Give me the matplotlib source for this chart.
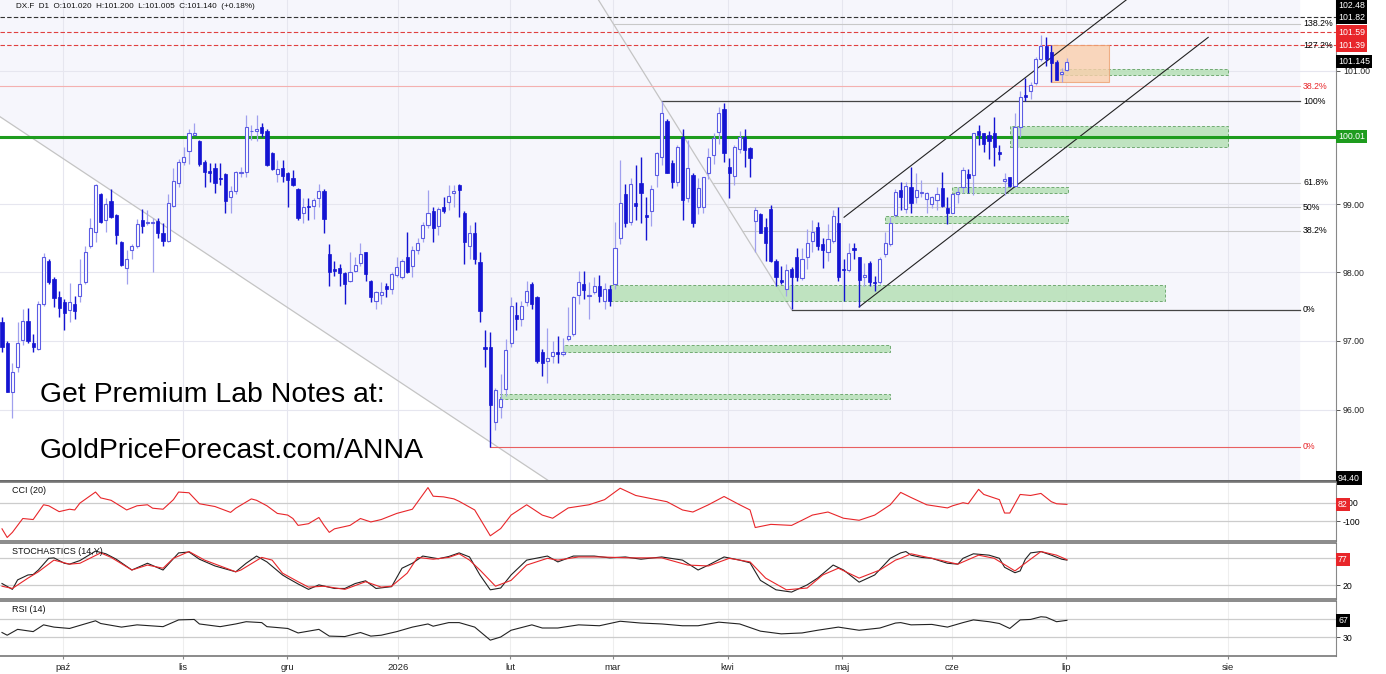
import numpy as np
import matplotlib
matplotlib.use("Agg")
import matplotlib.pyplot as plt
import matplotlib.transforms as mtransforms
from matplotlib.patches import Rectangle, Polygon
from matplotlib.ticker import FixedLocator, NullLocator

plt.rcParams['font.family'] = ['Liberation Sans', 'DejaVu Sans']

# --- dane dzienne DX.F ---
opens = [97.27, 96.97, 96.26, 96.62, 97.01, 97.29, 96.97, 96.88, 97.53, 98.17,
         97.90, 97.63, 97.56, 97.44, 97.54, 97.65, 97.85, 98.38, 98.59, 99.15,
         98.77, 99.05, 98.84, 98.45, 98.06, 98.33, 98.38, 98.77, 98.72, 98.73,
         98.75, 98.57, 98.46, 98.97, 99.32, 99.63, 99.80, 100.04, 99.95, 99.63,
         99.50, 99.54, 99.39, 99.45, 99.11, 99.20, 99.47, 99.48, 100.09, 100.10,
         100.16, 100.10, 99.77, 99.45, 99.54, 99.47, 99.39, 99.23, 98.88, 98.97,
         98.97, 99.09, 99.20, 98.26, 98.04, 98.06, 97.99, 97.87, 98.01, 98.13,
         98.29, 97.87, 97.57, 97.66, 97.79, 97.75, 97.96, 97.93, 98.22, 98.09,
         98.33, 98.51, 98.70, 98.90, 98.68, 98.96, 99.03, 99.17, 99.29, 98.88,
         98.38, 98.58, 98.15, 96.90, 96.90, 95.83, 96.04, 96.30, 96.97, 97.37,
         97.32, 97.56, 97.82, 97.63, 96.83, 96.71, 96.78, 96.83, 96.80, 97.03,
         97.09, 97.66, 97.82, 97.65, 97.71, 97.79, 97.57, 97.76, 97.82, 98.51,
         99.15, 98.74, 99.02, 99.32, 98.84, 98.90, 99.44, 99.71, 100.25, 99.62,
         99.33, 100.01, 99.09, 99.44, 98.96, 98.96, 99.47, 99.74, 100.08, 100.43,
         99.56, 99.42, 99.83, 100.00, 99.84, 98.75, 98.86, 98.67, 98.93, 98.16,
         97.88, 97.76, 98.04, 98.23, 97.91, 98.22, 98.46, 98.67, 98.42, 98.29,
         98.46, 98.72, 98.04, 98.03, 98.36, 98.22, 97.93, 98.13, 97.85, 97.85,
         98.26, 98.41, 98.84, 99.21, 98.93, 99.26, 99.11, 99.17, 99.08, 99.00,
         99.06, 99.24, 98.94, 98.87, 99.15, 99.26, 99.45, 99.44, 100.10, 100.06,
         100.03, 100.07, 99.78, 99.35, 99.41, 99.27, 100.16, 100.63, 100.70, 100.82,
         101.18, 101.38, 101.28, 101.14, 100.95, 101.02]
highs = [97.34, 96.99, 96.68, 97.27, 97.46, 97.47, 97.09, 97.57, 98.28, 98.19,
         97.93, 97.72, 97.60, 97.84, 97.65, 98.19, 98.38, 98.80, 99.30, 99.17,
         99.10, 99.23, 98.86, 98.46, 98.33, 98.41, 98.78, 98.93, 98.91, 98.80,
         98.80, 98.72, 99.15, 99.54, 99.68, 99.86, 100.12, 100.22, 99.96, 99.66,
         99.62, 99.62, 99.62, 99.47, 99.27, 99.50, 99.56, 100.34, 100.19, 100.34,
         100.22, 100.13, 99.78, 99.66, 99.66, 99.48, 99.51, 99.24, 99.09, 99.09,
         99.09, 99.30, 99.23, 98.41, 98.16, 98.12, 98.00, 98.29, 98.23, 98.43,
         98.29, 97.88, 97.72, 97.85, 97.84, 98.00, 98.23, 98.19, 98.59, 98.38,
         98.51, 98.74, 99.21, 98.96, 98.96, 99.11, 99.29, 99.29, 99.30, 98.90,
         98.70, 98.74, 98.29, 97.16, 97.12, 96.32, 96.51, 97.03, 97.63, 97.56,
         97.57, 97.87, 97.85, 97.65, 96.88, 97.19, 96.99, 97.07, 97.04, 97.49,
         97.65, 98.01, 98.01, 97.85, 97.93, 97.96, 97.84, 97.81, 98.74, 99.66,
         99.30, 99.39, 99.59, 99.71, 99.11, 99.29, 99.78, 100.54, 100.28, 99.66,
         99.89, 100.13, 99.96, 99.47, 99.39, 99.41, 99.84, 100.07, 100.46, 100.51,
         99.69, 99.89, 100.09, 100.13, 99.86, 98.96, 98.88, 98.80, 98.99, 98.19,
         98.09, 98.12, 98.07, 98.35, 98.36, 98.64, 98.77, 98.74, 98.51, 98.71,
         98.91, 98.96, 98.19, 98.43, 98.43, 98.23, 98.14, 98.16, 97.94, 98.23,
         98.59, 98.81, 99.23, 99.33, 99.33, 99.56, 99.47, 99.36, 99.18, 99.12,
         99.26, 99.48, 99.11, 99.17, 99.26, 99.56, 99.53, 100.07, 100.19, 100.06,
         100.09, 100.31, 99.89, 99.47, 99.41, 100.37, 100.69, 100.89, 100.84, 101.21,
         101.54, 101.52, 101.39, 101.17, 101.05, 101.20]
lows = [96.84, 96.25, 95.88, 96.54, 96.94, 96.97, 96.84, 96.87, 97.50, 97.82,
        97.49, 97.34, 97.16, 97.27, 97.31, 97.56, 97.82, 98.36, 98.45, 98.72,
        98.59, 98.80, 98.41, 98.09, 97.82, 98.19, 98.36, 98.58, 98.70, 98.00,
        98.51, 98.38, 98.45, 98.96, 99.26, 99.59, 99.60, 100.03, 99.57, 99.26,
        99.33, 99.17, 99.29, 98.87, 98.87, 99.15, 99.41, 99.41, 99.96, 99.95,
        100.01, 99.57, 99.51, 99.33, 99.33, 98.96, 99.27, 98.77, 98.72, 98.77,
        98.78, 98.96, 98.58, 97.79, 97.94, 97.79, 97.53, 97.85, 98.00, 98.09,
        97.87, 97.56, 97.46, 97.53, 97.63, 97.68, 97.93, 97.90, 97.99, 97.93,
        98.26, 98.45, 98.65, 98.45, 98.55, 98.87, 98.91, 98.96, 98.81, 98.12,
        98.19, 98.12, 97.27, 96.62, 95.46, 95.71, 95.88, 96.20, 96.91, 97.16,
        97.21, 97.50, 97.46, 96.68, 96.49, 96.39, 96.67, 96.68, 96.77, 96.99,
        97.06, 97.53, 97.60, 97.31, 97.68, 97.56, 97.46, 97.50, 97.75, 98.42,
        98.67, 98.70, 98.77, 98.72, 98.48, 98.68, 99.26, 99.59, 99.47, 99.24,
        99.27, 98.77, 99.03, 98.67, 98.86, 98.88, 99.38, 99.60, 99.90, 99.63,
        99.09, 99.29, 99.77, 99.56, 99.41, 98.30, 98.58, 98.16, 98.15, 97.79,
        97.82, 97.65, 97.46, 97.87, 97.88, 98.04, 98.30, 98.33, 98.06, 98.16,
        98.43, 97.87, 97.57, 98.00, 98.19, 97.49, 97.79, 97.79, 97.72, 97.82,
        98.23, 98.38, 98.81, 98.91, 98.87, 98.88, 99.02, 99.11, 98.87, 98.94,
        98.91, 98.96, 98.71, 98.87, 99.02, 99.17, 99.17, 99.14, 99.89, 99.78,
        99.68, 99.57, 99.66, 99.14, 99.26, 99.26, 100.01, 100.54, 100.57, 100.79,
        101.15, 101.08, 100.84, 100.87, 100.83, 101.005]
closes = [96.91, 96.26, 96.54, 96.97, 97.28, 96.99, 96.90, 97.53, 98.23, 97.85,
          97.62, 97.47, 97.40, 97.56, 97.43, 97.82, 98.29, 98.65, 99.29, 98.74,
          99.01, 98.81, 98.55, 98.10, 98.20, 98.38, 98.71, 98.68, 98.74, 98.74,
          98.58, 98.46, 99.02, 99.35, 99.63, 99.71, 100.07, 100.06, 99.60, 99.48,
          99.47, 99.32, 99.38, 99.05, 99.20, 99.48, 99.48, 100.16, 100.10, 100.12,
          100.07, 99.59, 99.53, 99.53, 99.42, 99.36, 99.29, 98.80, 98.96, 98.96,
          99.06, 99.20, 98.78, 98.00, 98.01, 97.99, 97.82, 98.00, 98.10, 98.26,
          97.97, 97.63, 97.71, 97.71, 97.76, 97.97, 98.07, 98.16, 98.00, 98.32,
          98.43, 98.70, 98.88, 98.65, 98.93, 98.90, 99.12, 99.20, 99.21, 98.45,
          98.57, 98.20, 97.43, 96.88, 96.07, 96.29, 96.16, 96.87, 97.50, 97.32,
          97.50, 97.72, 97.53, 96.70, 96.68, 96.74, 96.84, 96.81, 96.83, 97.06,
          97.63, 97.85, 97.74, 97.66, 97.79, 97.65, 97.76, 97.57, 98.35, 99.02,
          98.72, 99.30, 98.97, 99.17, 98.81, 99.23, 99.77, 100.37, 99.47, 99.33,
          99.86, 99.06, 99.54, 98.72, 99.24, 99.41, 99.71, 99.99, 100.37, 99.77,
          99.47, 99.86, 100.00, 99.81, 99.69, 98.91, 98.58, 98.43, 98.16, 97.93,
          97.85, 98.03, 97.93, 97.93, 98.19, 98.43, 98.59, 98.38, 98.32, 98.49,
          98.83, 97.93, 98.03, 98.28, 98.32, 97.88, 97.96, 97.85, 97.84, 98.20,
          98.43, 98.72, 99.19, 99.11, 99.27, 99.02, 99.21, 99.18, 99.17, 99.11,
          99.15, 98.97, 98.87, 99.15, 99.18, 99.51, 99.39, 100.06, 100.03, 99.90,
          99.95, 99.86, 99.75, 99.38, 99.27, 100.16, 100.61, 100.61, 100.79, 101.18,
          101.38, 101.18, 101.12, 100.87, 100.99, 101.14]

# --- wskazniki (indeks swiecy, wartosc) ---
cci_idx = [0, 1, 2, 4, 6, 8, 9, 11, 13, 14, 15, 18, 19, 21, 24, 26, 28, 29, 31, 33,
           34, 36, 38, 41, 44, 45, 48, 49, 51, 53, 55, 56, 57, 59, 61, 62, 63, 64, 67, 69,
           71, 73, 76, 79, 82, 83, 85, 87, 88, 91, 94, 96, 98, 101, 104, 106, 109, 113, 116, 119,
           122, 125, 128, 131, 133, 136, 139, 142, 144, 145, 148, 152, 154, 156, 159, 162, 165, 168, 171, 173,
           175, 178, 182, 183, 185, 186, 188, 189, 192, 193, 194, 196, 198, 200, 202, 203, 205]
cci_val = [-181, -274, -219, -70, -81, 78, 67, 4, 30, 22, 96, 215, 152, 126, 22, 67, 78, 41, 30, 133,
           215, 207, 89, 59, -4, 41, 141, 126, 67, -15, -33, -70, -144, -126, -59, -144, -219, -181, -144, -70,
           -107, -81, -15, 30, 263, 170, 163, 141, 115, 22, -256, -178, -33, 78, -33, -67, 44, 78, 133, 256,
           178, 144, 111, 22, 0, 78, 167, 78, 22, -167, -133, -144, -89, -33, 0, -67, -89, -33, 78, 211,
           156, 78, 44, 67, 100, 89, 244, 189, 133, -11, -11, 189, 178, 200, 111, 89, 82]

stk_idx = [0, 2, 3, 5, 6, 7, 9, 10, 12, 13, 15, 18, 20, 22, 25, 28, 31, 34, 36, 38,
           41, 45, 47, 49, 51, 54, 55, 57, 59, 61, 64, 66, 68, 70, 72, 75, 77, 79, 81, 84,
           86, 88, 90, 92, 94, 96, 98, 101, 105, 107, 110, 114, 117, 120, 123, 127, 131, 134, 136, 139,
           142, 144, 146, 149, 152, 155, 157, 160, 162, 165, 168, 171, 173, 174, 175, 177, 179, 182, 184, 185,
           187, 190, 192, 193, 195, 196, 197, 198, 200, 202, 204, 205]
stk_val = [24, 11, 32, 43, 44, 54, 80, 81, 69, 67, 75, 96, 90, 78, 54, 69, 54, 92, 94, 78,
           63, 50, 69, 85, 72, 43, 36, 23, 11, 21, 13, 13, 24, 30, 13, 17, 58, 69, 85, 79,
           84, 92, 83, 43, 10, 14, 43, 76, 85, 72, 85, 85, 81, 83, 78, 83, 76, 54, 65, 83,
           76, 70, 31, 10, 5, 21, 36, 65, 54, 27, 43, 80, 92, 95, 87, 82, 80, 69, 67, 80,
           90, 87, 80, 60, 48, 52, 78, 92, 95, 87, 78, 76]

std_idx = [0, 2, 5, 7, 10, 13, 15, 19, 21, 25, 28, 31, 33, 36, 39, 45, 46, 50, 52, 54,
           57, 59, 62, 66, 70, 73, 75, 78, 80, 83, 86, 88, 90, 92, 95, 98, 101, 105, 107, 111,
           115, 121, 127, 132, 136, 140, 144, 147, 151, 155, 158, 161, 165, 169, 172, 173, 175, 179, 184, 188,
           191, 195, 198, 200, 203, 205]
std_val = [18, 13, 36, 50, 76, 67, 69, 92, 82, 54, 65, 58, 80, 95, 76, 50, 54, 82, 76, 47,
           28, 16, 18, 11, 28, 16, 18, 47, 82, 78, 82, 90, 76, 54, 18, 31, 65, 80, 76, 83,
           83, 81, 81, 65, 63, 80, 72, 36, 10, 14, 43, 58, 36, 54, 76, 80, 90, 80, 67, 87,
           80, 52, 78, 95, 87, 77]

rsi_idx = [0, 1, 3, 6, 8, 10, 13, 18, 19, 23, 26, 31, 34, 37, 38, 42, 45, 47, 50, 51,
           55, 57, 61, 63, 66, 69, 71, 73, 76, 79, 82, 83, 86, 88, 91, 94, 96, 98, 102, 104,
           107, 111, 115, 119, 123, 127, 131, 134, 138, 142, 146, 150, 154, 157, 161, 165, 169, 172, 173, 175,
           179, 182, 185, 187, 190, 192, 194, 196, 198, 200, 201, 203, 205]
rsi_val = [40, 34, 47, 42, 57, 52, 49, 66, 60, 52, 57, 53, 68, 69, 59, 53, 59, 64, 62, 53,
           49, 39, 47, 32, 31, 40, 32, 34, 42, 52, 59, 54, 62, 62, 52, 23, 30, 45, 57, 50,
           50, 57, 55, 65, 61, 59, 55, 55, 63, 59, 43, 37, 39, 45, 52, 45, 50, 61, 62, 57,
           58, 52, 62, 68, 64, 60, 49, 68, 69, 75, 74, 64, 67]

month_labels = ['paź', 'lis', 'gru', '2026', 'lut', 'mar', 'kwi', 'maj', 'cze', 'lip', 'sie']
month_pos = [11.7, 34.8, 54.9, 76.2, 97.8, 117.6, 139.7, 161.7, 182.9, 204.8, 236.0]

# strefy wsparcia (od swiecy, do swiecy, dol, gora)
green_zones = [(203.7, 236.0, 100.94, 101.03),
               (194.0, 236.0, 99.86, 100.17),
               (182.9, 205.2, 99.17, 99.26),
               (170.0, 205.2, 98.72, 98.83),
               (117.0, 223.9, 97.57, 97.81),
               (108.0, 170.9, 96.83, 96.94),
               (95.9, 170.9, 96.16, 96.23)]
orange_zone = (201.9, 213.1, 100.84, 101.39)

# Fibonacci (czarne) i czerwone poziomy
fib_hi_i, fib_hi = 127, 100.54
fib_lo_i, fib_lo = 152, 97.45
fib_names = ['138.2%', '127.2%', '61.8%', '50%', '38.2%']
fib_prices = [101.72, 101.39, 99.32, 98.96, 98.61]
red38, red0, red0_i = 100.77, 95.47, 94

dashed_black = 101.82
dashed_red = [101.59, 101.39]
green_level = 100.01
last_price = 101.145

upper_ch = [(162.1, 98.81), (216.4, 102.08)]
lower_ch = [(165.0, 97.49), (232.2, 101.51)]

XMIN, XMAX = -0.385, 256.8
YMIN, YMAX = 94.98, 102.08
FIB_END = 249.9

W, H = 1386, 674
fig = plt.figure(figsize=(W / 100, H / 100), dpi=100)


def rect(top, bottom):
    return [0, 1 - bottom / H, 1336 / W, (bottom - top) / H]


ax = fig.add_axes(rect(0, 481))
ax_cci = fig.add_axes(rect(482, 541))
ax_sto = fig.add_axes(rect(543, 599))
ax_rsi = fig.add_axes(rect(601, 656))

LAV = '#f6f6fc'
DN = '#1414d2'
UP_EDGE = '#5c5ce4'
UP_WICK = '#a0a0ee'
RED = '#e8262a'

# ---------- panel glowny ----------
ax.set_yscale('log')
ax.set_xlim(XMIN, XMAX)
ax.set_ylim(YMIN, YMAX)
ax.set_facecolor('white')

ax.add_patch(Polygon([(XMIN, YMAX), (FIB_END, YMAX), (FIB_END, YMIN), (105.3, YMIN), (XMIN, 100.31)],
                     closed=True, fc=LAV, ec='none', zorder=0))
for mp in month_pos:
    ax.axvline(mp, color='#e6e6ef', lw=0.8, zorder=0.5)
for p in [96, 97, 98, 99, 100, 101]:
    ax.axhline(p, color='#e6e6ef', lw=0.8, zorder=0.5)

ax.plot([XMIN, 105.3], [100.31, YMIN], color='#c4c4c4', lw=0.9, zorder=1)

# ukosna linia od szczytu do dolka, przedluzona w gore
lx = np.log([fib_hi, fib_lo])
t_top = (np.log(YMAX) - lx[0]) / (lx[1] - lx[0])
x_top = fib_hi_i + t_top * (fib_lo_i - fib_hi_i)
ax.plot([x_top, fib_lo_i], [YMAX, fib_lo], color='#c4c4c4', lw=0.9, zorder=1)


def diag_x(p):
    t = (np.log(p) - lx[0]) / (lx[1] - lx[0])
    return fib_hi_i + t * (fib_lo_i - fib_hi_i)


for name, p in zip(fib_names, fib_prices):
    if name != '127.2%':
        ax.plot([diag_x(p), FIB_END], [p, p], color='#c8c8c8', lw=0.8, zorder=1)
ax.plot([fib_hi_i, FIB_END], [fib_hi, fib_hi], color='#444444', lw=0.9, zorder=1)
ax.plot([fib_lo_i, FIB_END], [fib_lo, fib_lo], color='#444444', lw=0.9, zorder=1)
ax.plot([XMIN, FIB_END], [red38, red38], color='#f4b0b0', lw=0.8, zorder=1)
ax.plot([red0_i, FIB_END], [red0, red0], color='#e86060', lw=0.8, zorder=1)

ax.axhline(dashed_black, color='#333333', lw=0.8, dashes=(4, 2), zorder=1)
for p in dashed_red:
    ax.axhline(p, color='#e04040', lw=0.8, dashes=(4, 2), zorder=1)
ax.axhline(green_level, color='#1e9c1e', lw=2.2, zorder=3)

for x0, x1, p0, p1 in green_zones:
    ax.add_patch(Rectangle((x0, p0), x1 - x0, p1 - p0, fc='#b6e0b6', ec='#5f9f5f',
                           lw=0.7, ls=(0, (3, 2)), alpha=0.85, zorder=1.5))
x0, x1, p0, p1 = orange_zone
ax.add_patch(Rectangle((x0, p0), x1 - x0, p1 - p0, fc='#fbcfac', ec='#eda070',
                       lw=0.8, alpha=0.8, zorder=1.5))

for pts in (upper_ch, lower_ch):
    ax.plot([pts[0][0], pts[1][0]], [pts[0][1], pts[1][1]], color='#222222', lw=0.8, zorder=2)

# swiece
o, hh, ll, c = map(np.array, (opens, highs, lows, closes))
xi = np.arange(len(o))
up = c >= o
b_lo = np.minimum(o, c)
b_h = np.maximum(np.abs(c - o), 0.012)
ax.vlines(xi[up], ll[up], hh[up], color=UP_WICK, lw=0.9, zorder=4)
ax.vlines(xi[~up], ll[~up], hh[~up], color=DN, lw=1.0, zorder=4)
ax.bar(xi[up], b_h[up], bottom=b_lo[up], width=0.6, color='white', edgecolor=UP_EDGE, lw=0.8, zorder=5)
ax.bar(xi[~up], b_h[~up], bottom=b_lo[~up], width=0.62, color=DN, edgecolor=DN, lw=0.5, zorder=5)

ax.yaxis.tick_right()
ax.yaxis.set_major_locator(FixedLocator([96, 97, 98, 99, 101]))
ax.yaxis.set_minor_locator(NullLocator())
ax.set_yticklabels(['96.00', '97.00', '98.00', '99.00', '101.00'])
ax.tick_params(axis='y', labelsize=6.3, length=3, width=0.7, color='#555555', pad=2, labelcolor='#222222')
ax.set_xticks([])
for s in ('top', 'left'):
    ax.spines[s].set_visible(False)
ax.spines['right'].set_color('#888888')
ax.spines['bottom'].set_color('#666666')
ax.spines['bottom'].set_linewidth(1.4)

tr_main = mtransforms.blended_transform_factory(ax.transAxes, ax.transData)
FX = 1303 / 1336
fib_lab = [('138.2%', 101.72, 'black'), ('127.2%', 101.39, 'black'), ('38.2%', red38, RED),
           ('100%', fib_hi, 'black'), ('61.8%', 99.32, 'black'), ('50%', 98.96, 'black'),
           ('38.2%', 98.61, 'black'), ('0%', fib_lo, 'black'), ('0%', red0, RED)]
for txt, p, col in fib_lab:
    ax.text(FX, p, txt, transform=tr_main, fontsize=6.3, color=col, va='center', ha='left', zorder=6)


def tag(axis, y, text, bg, tr=None):
    if tr is None:
        tr = mtransforms.blended_transform_factory(axis.transAxes, axis.transData)
    axis.text(1.0015, y, text, transform=tr, ha='left', va='center', fontsize=6.3, color='white',
              bbox=dict(boxstyle='square,pad=0.25', fc=bg, ec='none'), clip_on=False, zorder=10)


tag(ax, 1 - 6 / 481, '102.48', 'black', ax.transAxes)
tag(ax, dashed_black, '101.82', 'black')
tag(ax, dashed_red[0], '101.59', RED)
tag(ax, dashed_red[1], '101.39', RED)
tag(ax, last_price, '101.145', 'black')
tag(ax, green_level, '100.01', '#1e9c1e')
tag(ax, 1 - 478 / 481, '94.40', 'black', ax.transAxes)

ax.text(40 / 1336, 1 - 402 / 481, 'Get Premium Lab Notes at:', transform=ax.transAxes,
        fontsize=20.4, va='baseline', ha='left', color='black', zorder=7)
ax.text(40 / 1336, 1 - 458 / 481, 'GoldPriceForecast.com/ANNA', transform=ax.transAxes,
        fontsize=20.4, va='baseline', ha='left', color='black', zorder=7)

fig.text(16 / W, 1 - 7 / H, 'DX.F  D1  O:101.020  H:101.200  L:101.005  C:101.140  (+0.18%)',
         fontsize=5.9, va='center', ha='left', color='#111111')

# ---------- wskazniki ----------
panels = [(ax_cci, 'CCI (20)', (-312, 323), [100, -100], ['100', '-100']),
          (ax_sto, 'STOCHASTICS (14,Y)', (-10.4, 114), [80, 20], ['', '20']),
          (ax_rsi, 'RSI (14)', (-12.2, 110), [70, 30], ['', '30'])]
for a, title, yl, ticks, labels in panels:
    a.set_xlim(XMIN, XMAX)
    a.set_ylim(*yl)
    for mp in month_pos:
        a.axvline(mp, color='#eeeeee', lw=0.8, zorder=0)
    for tk in ticks:
        a.axhline(tk, color='#cccccc', lw=0.9, zorder=0)
    a.yaxis.tick_right()
    a.set_yticks(ticks)
    a.set_yticklabels(labels)
    a.tick_params(axis='y', labelsize=6.3, length=3, width=0.7, color='#555555', pad=2)
    a.spines['left'].set_visible(False)
    a.spines['right'].set_color('#888888')
    for s in ('top', 'bottom'):
        a.spines[s].set_color('#777777')
        a.spines[s].set_linewidth(1.2)
    a.text(0.009, 0.93, title, transform=a.transAxes, fontsize=6.5, va='top', ha='left', color='#111111')
    a.set_xticks([])

ax_cci.plot(cci_idx, cci_val, color=RED, lw=0.8)
tag(ax_cci, 82, '82', RED)
ax_sto.plot(stk_idx, stk_val, color='#222222', lw=0.8)
ax_sto.plot(std_idx, std_val, color=RED, lw=0.8)
tag(ax_sto, 77, '77', RED)
ax_rsi.plot(rsi_idx, rsi_val, color='#222222', lw=0.8)
tag(ax_rsi, 67, '67', 'black')

ax_rsi.set_xticks(month_pos)
ax_rsi.set_xticklabels(month_labels)
ax_rsi.tick_params(axis='x', labelsize=6.8, length=2, color='#888888', pad=3, labelcolor='#222222')

fig.savefig('out.png', dpi=100)
